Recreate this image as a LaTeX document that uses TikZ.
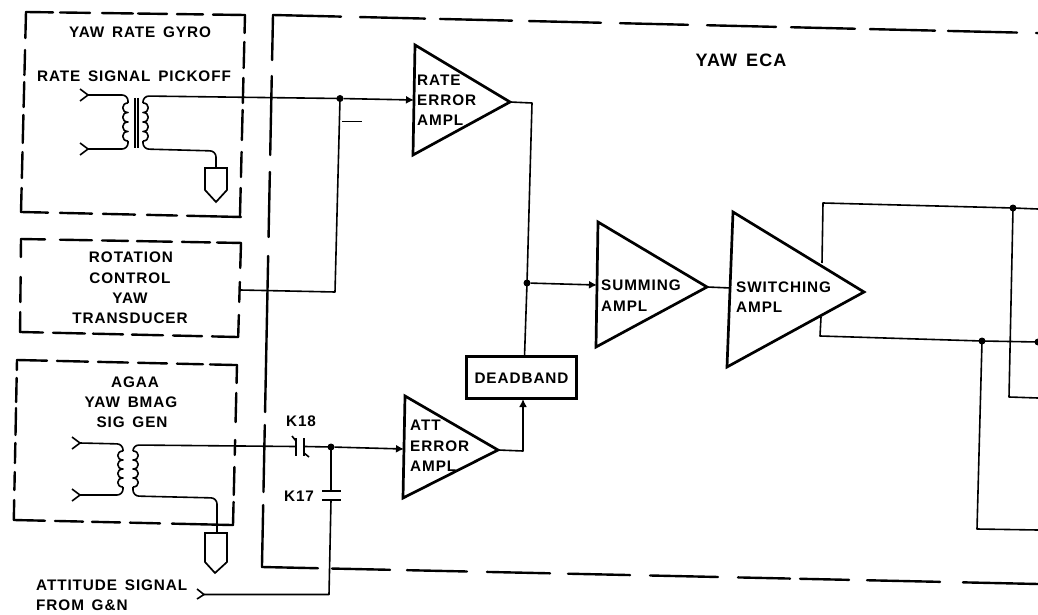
\documentclass[tikz,border=0pt]{standalone}
\usepackage{fontspec}
\newfontfamily\labfont[LetterSpace=6,WordSpace=1.5]{Liberation Sans}
\usetikzlibrary{arrows.meta}
\tikzset{
 wire/.style={line width=1.6pt,line join=round},
 bound/.style={line width=2.4pt,line cap=round},
 amp/.style={line width=2.7pt,line join=miter},
 lbl/.style={font=\labfont\bfseries\fontsize{15.3}{18}\selectfont,inner sep=0pt,yshift=-1pt},
 dot/.style={circle,fill=black,inner sep=0pt,minimum size=7pt},
 arr/.style={-{Latex[length=8pt,width=8pt]}},
 gnd/.style={line width=1.7pt,line join=miter},
}
% dashes along a nearly horizontal edge: x0,y0,slope,list of from/to
\newcommand\hdashes[4]{\foreach \a/\b in {#4}{\draw[bound] (\a,{#2+(\a-#1)*#3}) -- (\b,{#2+(\b-#1)*#3});}}
% dashes along a nearly vertical edge: x0,y0,slope,list of from/to
\newcommand\vdashes[4]{\foreach \a/\b in {#4}{\draw[bound] ({#1+(\a-#2)*#3},\a) -- ({#1+(\b-#2)*#3},\b);}}
% coil of four bumps: x,y start, bump height, bump width (signed)
\newcommand\coilsym[4]{\draw[wire] (#1,#2) foreach \i in {0,1,2,3}{ .. controls ({#1+#4},{#2+\i*#3}) and ({#1+#4},{#2+(\i+1)*#3}) .. (#1,{#2+(\i+1)*#3})};}
\begin{document}
\begin{tikzpicture}[x=1pt,y=-1pt]
\useasboundingbox (0,0) rectangle (1038,615);
% ---- dashed boundaries
\hdashes{26}{12}{0.0137}{26/53,60/90,102/133,138/167,177/203,213/245}
\vdashes{245}{15}{-0.025}{15/33,42/68,78/103,110/140,152/177,188/217}
\hdashes{21}{212}{0.0227}{21/48,60/92,103/135,147/177,187/241}
\vdashes{26}{12}{-0.025}{12/38,50/75,82/107,115/143,152/178,188/212}
\hdashes{21}{239}{0.018}{21/45,60/92,102/128,137/172,182/210,217/241}
\vdashes{241}{243}{-0.03}{243/268,282/302,315/337}
\hdashes{20}{332}{0.023}{20/43,53/85,93/123,132/163,173/202,212/238}
\vdashes{21}{239}{-0.01}{239/257,277/302,312/332}
\hdashes{17}{360}{0.023}{17/47,57/88,98/128,138/167,177/203,210/237}
\vdashes{237}{365}{-0.025}{365/383,393/422,440/455,467/495,502/525}
\hdashes{14}{520}{0.023}{14/45,55/83,92/120,130/160,172/233}
\vdashes{17}{360}{-0.02}{360/370,378/402,408/435,443/463,472/490,500/520}
\hdashes{273}{15}{0.0236}{273/341,360/425,440/512,529/601,620/688,707/776,791/855,870/935,948/1017,1036/1038}
\vdashes{273}{15}{-0.02}{15/60,76/155,172/237,256/412,425/492,505/567}
\hdashes{262}{567}{0.0219}{262/318,332/390,407/467,487/550,568/630,650/718,738/790,800/849,867/940,963/1038}
% ---- amplifiers
\draw[amp] (415,45) -- (510,102) coordinate (raout) -- (413,155) -- cycle;
\draw[amp] (598,222) -- (707,287) coordinate (suout) -- (596,347) -- cycle;
\draw[amp] (733,212) -- (864,292) -- (727,367) -- cycle;
\draw[amp] (405,396) -- (498,450) coordinate (atout) -- (403,498) -- cycle;
\coordinate (rain) at (414,100);
\coordinate (suin) at (597,285);
\coordinate (swin) at (731,288);
\coordinate (atin) at (404,449);
\node[draw,line width=2.4pt,minimum width=110pt,minimum height=42pt,inner sep=0pt] (db) at (521.5,377.5) {};
\node[lbl] (dbt) at (db) {DEADBAND};
\coordinate (dbtop) at (524.5,356.5);
\coordinate (dbbot) at (523,399);
% ---- junction dots
\node[dot] (j1) at (340,98.5) {};
\node[dot] (j2) at (527,283) {};
\node[dot] (j3) at (331,447) {};
\node[dot] (j4) at (1013,208) {};
\node[dot] (j5) at (982,341) {};
\node[dot] (j6) at (1038,342) {};
% ---- amplifier wiring
\draw[wire,arr] (j1) -- (rain);
\draw[wire] (raout) -- (532,103) -- (j2.center);
\draw[wire] (j2.center) -- (dbtop);
\draw[wire,arr] (j2) -- (suin);
\draw[wire] (suout) -- (swin);
\draw[wire,arr] (atout) -- (523,451) -- (dbbot);
\draw[wire] (822,263) -- (823,203) -- (j4.center) -- (1038,209);
\draw[wire] (j4.center) -- (1009,397) -- (1038,398);
\draw[wire] (821,317) -- (820,336) -- (j5.center) -- (j6.center);
\draw[wire] (j5.center) -- (977,529) -- (1038,530);
% ---- gyro transformer
\coordinate (p1t) at (88,95);
\coordinate (p1b) at (88,149);
\draw[wire] (80,89) -- (p1t) -- (80,101);
\draw[wire] (80,143) -- (p1b) -- (80,155);
\draw[wire,rounded corners=6pt] (p1t) -- (128,95) -- (128,103);
\draw[wire,rounded corners=6pt] (p1b) -- (128,149) -- (128,141);
\coilsym{128}{103}{9.5}{-7}
\draw[line width=1.1pt] (135,98) -- (135,148) (138,98) -- (138,148);
\coilsym{143}{103}{9.5}{7}
\draw[wire,rounded corners=6pt] (143,103) -- (143,96) -- (j1.center);
\draw[wire,rounded corners=6pt] (143,141) -- (143,149) -- (216,151) -- (216,168);
\draw[gnd] (205,168) -- (227,168) -- (227,190) -- (216,202) -- (205,190) -- cycle;
% ---- rotation transducer wiring
\draw[wire] (j1.center) -- (335,292) -- (240,290);
\draw[line width=0.6pt] (342,121) -- (362,121);
% ---- BMAG transformer
\coordinate (p2t) at (80,443);
\coordinate (p2b) at (80,495);
\draw[wire] (72,437) -- (p2t) -- (72,449);
\draw[wire] (72,489) -- (p2b) -- (72,501);
\draw[wire,rounded corners=6pt] (p2t) -- (123,444) -- (123,451);
\draw[wire,rounded corners=6pt] (p2b) -- (123,495) -- (123,487);
\coilsym{123}{451}{9}{-7}
\coilsym{133}{451}{9}{7}
\coordinate (k18a) at (295,446.5);
\coordinate (k18b) at (305,446.5);
\draw[wire,rounded corners=6pt] (133,451) -- (133,445) -- (k18a);
\draw[wire,rounded corners=6pt] (133,487) -- (133,496) -- (217,498) -- (217,533);
\draw[gnd] (205,533) -- (227,533) -- (227,562) -- (215,573) -- (205,562) -- cycle;
% ---- K18 and K17 contacts
\draw[line width=2pt] (296,438) -- (296,456) (304,438) -- (304,456);
\draw[wire] (292,436) -- (296,441) (304,453) -- (309,457);
\draw[wire] (k18b) -- (j3.center);
\draw[wire,arr] (j3) -- (atin);
\draw[wire] (j3.center) -- (331,491);
\draw[line width=2.2pt] (322,491) -- (341,491) (322,500) -- (341,500);
\coordinate (attsig) at (204,594.5);
\coordinate (attcorner) at (329,594.5);
\coordinate (k17low) at (331,500);
\draw[wire] (197,589) -- (attsig) -- (197,599);
\draw[wire] (k17low) -- (attcorner) -- (attsig);
% ---- text
\node[lbl] (t1) at (140,31) {YAW RATE GYRO};
\node[lbl] (t2) at (134,75) {RATE SIGNAL PICKOFF};
\node[lbl] (t3) at (131,256) {ROTATION};
\node[lbl] (t4) at (130,277) {CONTROL};
\node[lbl] (t5) at (130,297) {YAW};
\node[lbl] (t6) at (130,317) {TRANSDUCER};
\node[lbl] (t7) at (135,381) {AGAA};
\node[lbl] (t8) at (131,401) {YAW BMAG};
\node[lbl] (t9) at (132,421) {SIG GEN};
\node[lbl,font=\labfont\bfseries\fontsize{18}{21}\selectfont] (t10) at (741,59) {YAW ECA};
\node[lbl,anchor=west] (a1) at (417,79) {RATE};
\node[lbl,anchor=west] (a2) at (417,99) {ERROR};
\node[lbl,anchor=west] (a3) at (417,119) {AMPL};
\node[lbl,anchor=west] (a4) at (601,284) {SUMMING};
\node[lbl,anchor=west] (a5) at (601,305) {AMPL};
\node[lbl,anchor=west] (a6) at (736,286) {SWITCHING};
\node[lbl,anchor=west] (a7) at (736,306) {AMPL};
\node[lbl,anchor=west] (a8) at (410,424) {ATT};
\node[lbl,anchor=west] (a9) at (410,445) {ERROR};
\node[lbl,anchor=west] (a10) at (410,465) {AMPL};
\node[lbl] (k18) at (301,420) {K18};
\node[lbl] (k17) at (299,495) {K17};
\node[lbl,anchor=west] (s1) at (36,584) {ATTITUDE SIGNAL};
\node[lbl,anchor=west] (s2) at (36,604) {FROM G\&N};
\end{tikzpicture}
\end{document}
